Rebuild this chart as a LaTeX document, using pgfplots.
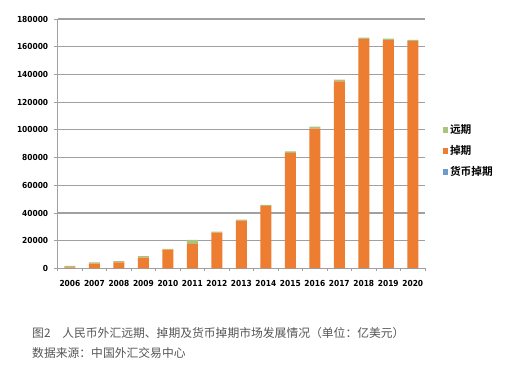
\documentclass[border=0pt]{standalone}
\usepackage{pgfplots}
\pgfplotsset{compat=1.18}
\usepackage{fontspec}
\setmainfont{DejaVu Sans Condensed}
\newfontfamily\cjk{Noto Sans CJK SC}
\newfontfamily\cjkb{Noto Sans CJK SC Bold}
\definecolor{cOrange}{HTML}{ED7D31}
\definecolor{cGreen}{HTML}{A9C47F}
\definecolor{cBlue}{HTML}{6E9BCB}
\definecolor{cGrid}{HTML}{A0A0A0}
\definecolor{cCap}{HTML}{555555}
\begin{document}
\begin{tikzpicture}
\useasboundingbox (0,0) rectangle (519bp,381bp);
\begin{axis}[
  at={(57.7bp,112.5bp)}, anchor=south west,
  scale only axis, width=367.3bp, height=249.5bp,
  ybar stacked, bar width=11bp,
  xmin=-0.5, xmax=14.5, ymin=0, ymax=180000,
  xtick={0,...,14},
  xticklabels={2006,2007,2008,2009,2010,2011,2012,2013,2014,2015,2016,2017,2018,2019,2020},
  major x tick style={draw=none},
  minor xtick={-0.5,0.5,...,14.5},
  minor tick length=3bp,
  minor x tick style={cGrid, line width=0.8bp},
  ytick={0,20000,...,180000},
  scaled y ticks=false,
  /pgf/number format/fixed,
  /pgf/number format/set thousands separator={},
  /pgf/number format/assume math mode=true,
  tick align=outside, major tick length=4bp,
  major y tick style={cGrid, line width=0.8bp},
  ymajorgrids, grid style={cGrid, line width=1.2bp},
  axis x line*=bottom, axis y line*=left,
  axis line style={cGrid, line width=1bp},
  x axis line style={-}, y axis line style={-},
  tick label style={font=\fontsize{8.3bp}{9bp}\selectfont\bfseries},
  xticklabel style={yshift=-4bp},
  yticklabel style={xshift=-2bp},
  legend style={at={(1.048,0.585)}, anchor=north west, draw=none, fill=none,
    font=\cjkb\fontsize{10.7bp}{12bp}\selectfont, row sep=6.5bp, inner sep=0pt,
    /tikz/every even column/.append style={column sep=0bp}},
  legend cell align=left,
  reverse legend,
  legend image code/.code={\fill[#1] (0bp,-2.6bp) rectangle (5.2bp,2.6bp);},
]
\addplot[fill=cBlue, draw=none] coordinates {(0,50) (1,60) (2,70) (3,80) (4,100) (5,120) (6,150) (7,150) (8,150) (9,150) (10,200) (11,200) (12,200) (13,200) (14,200)};
\addlegendentry{货币掉期}
\addplot[fill=cOrange, draw=none] coordinates {(0,700) (1,3400) (2,4400) (3,7700) (4,13600) (5,17700) (6,25700) (7,34400) (8,45000) (9,83300) (10,100800) (11,134800) (12,165300) (13,164600) (14,163800)};
\addlegendentry{掉期}
\addplot[fill=cGreen, draw=none] coordinates {(0,1100) (1,900) (2,900) (3,1200) (4,500) (5,2900) (6,700) (7,700) (8,700) (9,1000) (10,1300) (11,1300) (12,1000) (13,1000) (14,1000)};
\addlegendentry{远期}
\end{axis}
\node[anchor=west, text=cCap, font=\cjk\fontsize{11.8bp}{13bp}\selectfont, inner sep=0pt] at (32bp,48bp) {图2\hspace{1em}人民币外汇远期、掉期及货币掉期市场发展情况（单位：亿美元）};
\node[anchor=west, text=cCap, font=\cjk\fontsize{11.8bp}{13bp}\selectfont, inner sep=0pt] at (32bp,28bp) {数据来源：中国外汇交易中心};
\end{tikzpicture}
\end{document}
